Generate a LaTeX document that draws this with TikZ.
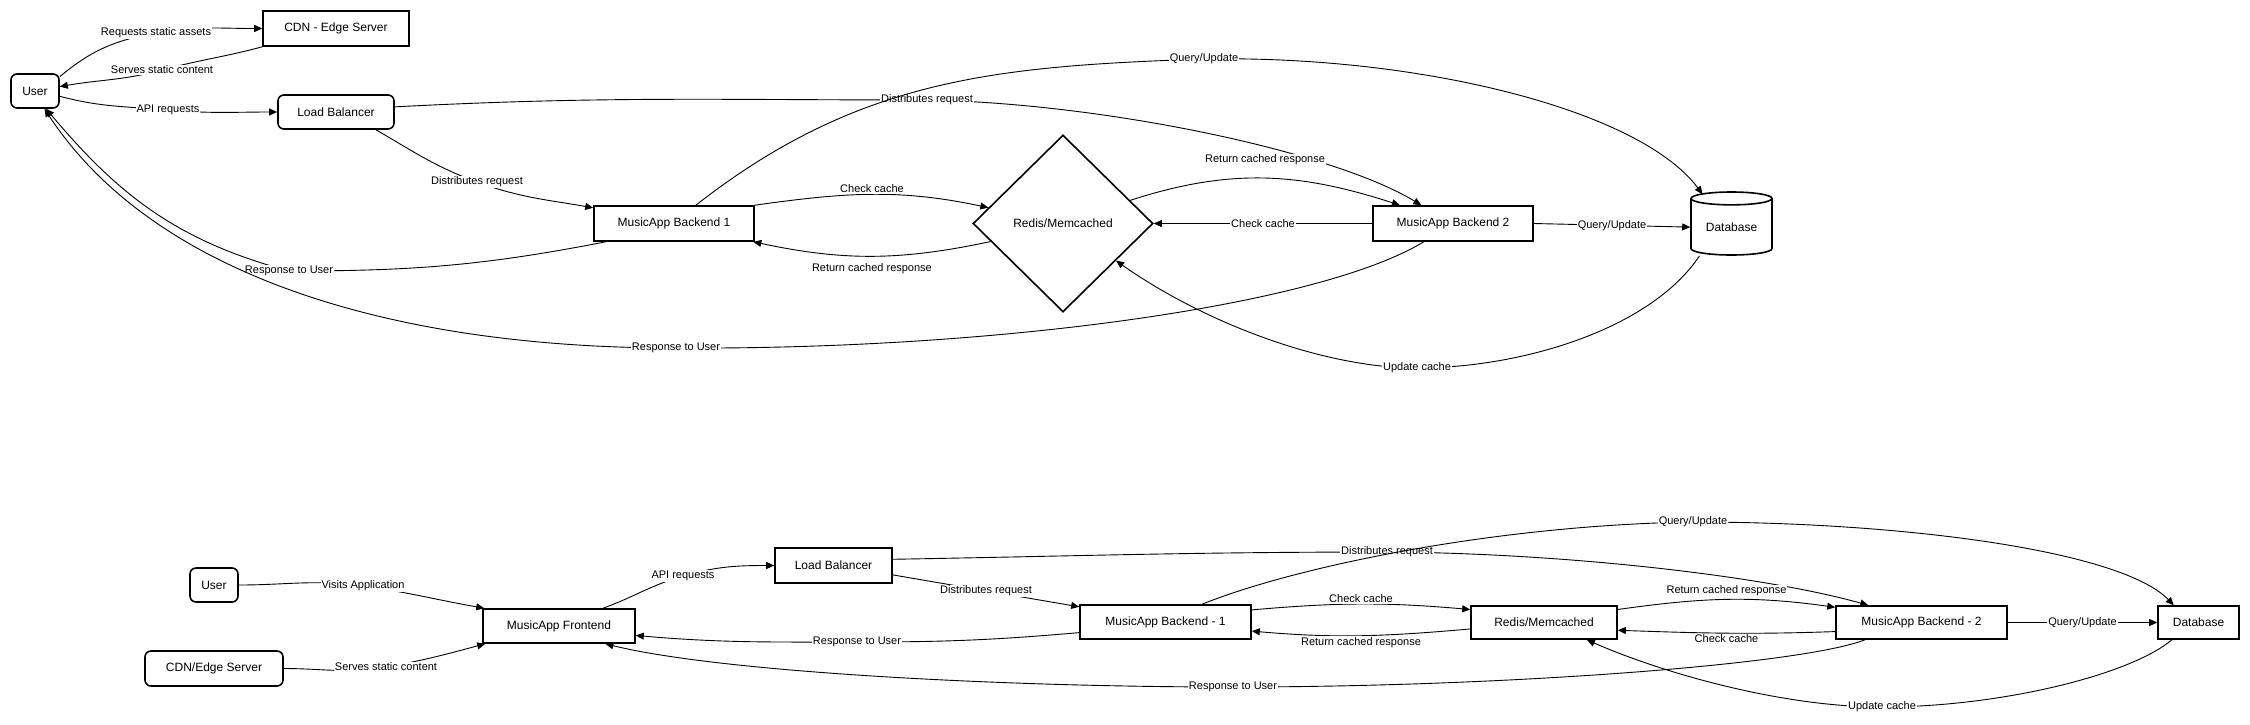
\documentclass[tikz,border=0pt]{standalone}
\usepackage{fontspec}
\setmainfont{Liberation Sans}
\usetikzlibrary{shapes.geometric,arrows.meta,positioning}

\begin{document}
\begin{tikzpicture}[x=1pt, y=1pt,
    >={Triangle[length=8pt,width=7pt]},
    box/.style={draw, line width=1.6pt, inner sep=0pt, font=\fontsize{12}{14}\selectfont},
    rbox/.style={box, rounded corners=6pt},
    lbl/.style={fill=white, inner sep=1pt, font=\fontsize{11}{13}\selectfont},
    link/.style={->, line width=0.9pt}]
    \useasboundingbox (0,0) rectangle (2250,-724);

    % Upper layout
    \node[rbox, minimum width=48pt, minimum height=34pt] (user) at (35,-91) {User};
    \node[box, minimum width=146pt, minimum height=35pt] (cdn) at (336,-28.5) {CDN - Edge Server};
    \node[rbox, minimum width=116pt, minimum height=34pt] (lb) at (336,-112) {Load Balancer};
    \node[box, minimum width=160pt, minimum height=35pt] (be1) at (674,-223.5) {MusicApp Backend 1};
    \node[box, diamond, minimum width=180pt, minimum height=177pt] (cache) at (1063,-223.5) {Redis/Memcached};
    \node[box, minimum width=160pt, minimum height=35pt] (be2) at (1453,-223.5) {MusicApp Backend 2};
    \node[box, cylinder, shape border rotate=90, aspect=0.25, minimum width=81pt, minimum height=63pt, anchor=shape center] (db) at (1731.5,-223.5) {Database};

    % Lower layout
    \node[rbox, minimum width=48pt, minimum height=34pt] (user2) at (214,-585) {User};
    \node[rbox, minimum width=138pt, minimum height=35pt] (cdn2) at (214,-668.5) {CDN/Edge Server};
    \node[box, minimum width=152pt, minimum height=34pt] (fe) at (559,-626) {MusicApp Frontend};
    \node[box, minimum width=117pt, minimum height=35pt] (lb2) at (833.5,-565.5) {Load Balancer};
    \node[box, minimum width=171pt, minimum height=34pt] (be21) at (1165.5,-622) {MusicApp Backend - 1};
    \node[box, minimum width=146pt, minimum height=33pt] (cache2) at (1544,-622.5) {Redis/Memcached};
    \node[box, minimum width=171pt, minimum height=33pt] (be22) at (1921.5,-622.5) {MusicApp Backend - 2};
    \node[box, minimum width=81pt, minimum height=33pt] (db2) at (2198.5,-622.5) {Database};

    % Upper arrows
    \draw[link] (user.30) to[out=40,in=190] (156,-33) node[lbl]{Requests static assets} to[out=10,in=180] (cdn.west);
    \draw[link] (cdn.south west) to[out=195,in=15] (162,-70) node[lbl]{Serves static content} to[out=195,in=10] (user.10);
    \draw[link] (user.-12) to[out=-15,in=175] (168,-110) node[lbl]{API requests} to[out=-5,in=180] (lb.west);
    \draw[link] (lb.-24) to[out=-30,in=160] (477,-182) node[lbl]{Distributes request} to[out=-20,in=170] (be1.169);
    \draw[link] (lb.5) to[out=3,in=180] (927,-100) node[lbl]{Distributes request} .. controls (1100,-103) and (1330,-150) .. (be2.150);
    \draw[link] (be1.north east) to[out=8,in=168] node[lbl, above]{Check cache} (cache.168);
    \draw[link] (cache.194) to[out=192,in=-12] node[lbl, below=6pt]{Return cached response} (be1.-13);
    \draw[link] (be2.west) -- node[lbl]{Check cache} (cache.east);
    \draw[link] (cache.19) to[out=18,in=162] node[lbl, above=12pt]{Return cached response} (be2.161);
    \draw[link] (be2.east) -- node[lbl]{Query/Update} (db.west);
    \draw[link] (be1.40) to[out=38,in=182] (1204,-59) node[lbl]{Query/Update} .. controls (1420,-55) and (1640,-110) .. ([xshift=-29pt,yshift=-3pt]db.north);
    \draw[link] (be1.195) to[out=191,in=0] (289,-271) node[lbl]{Response to User} to[out=165,in=-50] (user.-58);
    \draw[link] (be2.212) .. controls (1320,-305) and (1000,-350) .. (676,-348) node[lbl]{Response to User} .. controls (380,-348) and (150,-270) .. (user.-62);
    \draw[link] ([xshift=-32pt]db.south) .. controls (1650,-330) and (1520,-368) .. (1417,-368) node[lbl]{Update cache} .. controls (1320,-368) and (1200,-320) .. (cache.-35);

    % Lower arrows
    \draw[link] (user2.east) to[out=0,in=172] (363,-586) node[lbl]{Visits Application} to[out=-8,in=170] ([xshift=2pt]fe.north west);
    \draw[link] (cdn2.east) to[out=0,in=190] (386,-667) node[lbl]{Serves static content} to[out=10,in=195] ([xshift=3pt]fe.south west);
    \draw[link] (fe.22) to[out=20,in=196] (683,-576) node[lbl]{API requests} to[out=16,in=180] (lb2.west);
    \draw[link] (lb2.-9) -- node[lbl]{Distributes request} (be21.170);
    \draw[link] (lb2.6) to[out=1,in=180] (1387,-552) node[lbl]{Distributes request} .. controls (1560,-553) and (1760,-575) .. (be22.162);
    \draw[link] (be21.8) to[out=5,in=175] node[lbl, above]{Check cache} (cache2.170);
    \draw[link] (cache2.185) to[out=185,in=-5] node[lbl, below]{Return cached response} (be21.-6);
    \draw[link] (cache2.10) to[out=8,in=172] node[lbl, above=2pt]{Return cached response} (be22.170);
    \draw[link] (be22.186) to[out=182,in=-2] node[lbl, below]{Check cache} (cache2.-6);
    \draw[link] (be22.east) -- node[lbl]{Query/Update} (db2.west);
    \draw[link] (be21.26) .. controls (1300,-565) and (1500,-525) .. (1693,-522) node[lbl]{Query/Update} .. controls (1900,-522) and (2120,-550) .. (db2.145);
    \draw[link] (be21.187) to[out=185,in=0] (857,-642) node[lbl]{Response to User} to[out=180,in=-5] (fe.-7);
    \draw[link] (be22.197) .. controls (1800,-665) and (1500,-687) .. (1233,-687) node[lbl]{Response to User} .. controls (1000,-687) and (720,-672) .. (fe.-21);
    \draw[link] (db2.213) .. controls (2130,-675) and (2000,-707) .. (1882,-707) node[lbl]{Update cache} .. controls (1780,-707) and (1660,-672) .. (cache2.-22);
\end{tikzpicture}
\end{document}
